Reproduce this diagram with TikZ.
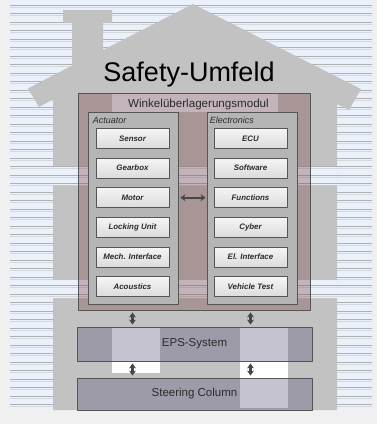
\documentclass[tikz,border=0pt]{standalone}
\usepackage{fontspec}
\setmainfont{Liberation Sans}
\usetikzlibrary{arrows.meta,positioning}
\definecolor{ground}{HTML}{F0F0F0}
\definecolor{siding}{HTML}{EAF1FA}
\definecolor{plank}{HTML}{AEB1B4}
\definecolor{plankhi}{HTML}{D4D8DD}
\definecolor{wall}{HTML}{C2C2C2}
\definecolor{edge}{HTML}{555555}
\definecolor{ink}{HTML}{2B2B2B}
\definecolor{modfill}{HTML}{7A4545}
\definecolor{layerfill}{HTML}{5A5578}
\tikzset{
  every picture/.style={
    line join=round,
    >=Stealth,
  },
  plank/.style={draw=plank, line width=0.6pt},
  plankhi/.style={draw=plankhi, line width=0.45pt},
  modulebox/.style={draw=edge, line width=0.9pt, fill=modfill, fill opacity=0.35,
    minimum width=232pt, minimum height=217pt, inner sep=0pt},
  groupbox/.style={draw=edge, line width=0.9pt, fill=black!29,
    minimum width=90pt, minimum height=192pt, inner sep=0pt},
  grouplabel/.style={font=\fontsize{9}{10}\selectfont\itshape, text=ink, inner sep=0pt},
  partbox/.style={draw=edge, line width=0.8pt, top color=black!4, bottom color=black!14,
    minimum width=73pt, minimum height=20pt, inner sep=0pt,
    font=\fontsize{7.9}{9}\selectfont\bfseries\itshape, text=ink},
  layerbox/.style={draw=edge, line width=0.9pt, fill=layerfill, fill opacity=0.35,
    text opacity=1, minimum width=235pt, inner sep=0pt,
    font=\fontsize{11.5}{13}\selectfont, text=ink},
  linkarrow/.style={<->, draw=black!72, line width=2.1pt,
    >={Stealth[length=5pt,width=7pt]}},
}
% horizontal boards of the wall behind the house
\newcommand\sidinglines{%
  \foreach \y in {5,13.5,...,406}{
    \draw[plank] (10,\y) -- (372,\y);
    \draw[plankhi] (10,\y+1.8) -- (372,\y+1.8);
  }}

\begin{document}
\begin{tikzpicture}[x=1pt,y=-1pt]
\useasboundingbox (0,0) rectangle (377,424);
\fill[ground] (0,0) rectangle (377,424);
\fill[siding] (10,0) rectangle (372,410);
\sidinglines
% house with chimney
\fill[wall] (53,410) -- (53,99.5) -- (39,107) -- (28,88.5) -- (72,65.5) -- (72,23)
  -- (63,23) -- (63,10) -- (112,10) -- (112,23) -- (103,23) -- (103,50)
  -- (193,4) -- (361,89) -- (349,110) -- (337,104) -- (337,410) -- cycle;
% the two open floors
\begin{scope}
  \clip (53,166) rectangle (337,185) (53,280) rectangle (337,298);
  \fill[siding] (53,160) rectangle (337,300);
  \sidinglines
\end{scope}
% windows
\fill[siding] (112,93) rectangle (278,112);
\fill[white] (112,327) rectangle (160,373);
\fill[white] (240,327) rectangle (288,408);

\node[font=\fontsize{27}{30}\selectfont, anchor=base] (title) at (189,81) {Safety-Umfeld};

\node[modulebox] (module) at (194,201.5) {};
\node[font=\fontsize{11.6}{13}\selectfont, text=ink, anchor=base] (modtitle) at (198.5,107) {Winkelüberlagerungsmodul};

\node[groupbox] (actuator) at (133,208) {};
\node[groupbox] (electronics) at (252,208) {};
\node[grouplabel, anchor=base west] (actlabel) at ([shift={(5,11.5)}]actuator.north west) {Actuator};
\node[grouplabel, anchor=base west] (elelabel) at ([shift={(3,11.5)}]electronics.north west) {Electronics};

\foreach \name/\txt [count=\i from 0] in {sensor/Sensor, gearbox/Gearbox, motor/Motor,
    locking/Locking Unit, mechif/Mech. Interface, acoustics/Acoustics}
  \node[partbox] (\name) at (132.5,{138.3+29.7*\i}) {\txt};
\foreach \name/\txt [count=\i from 0] in {ecu/ECU, software/Software, functions/Functions,
    cyber/Cyber, elif/El. Interface, vehicle/Vehicle Test}
  \node[partbox] (\name) at (250.5,{138.3+29.7*\i}) {\txt};

\node[layerbox, minimum height=34pt] (eps) at (194.5,344) {EPS-System};
\node[layerbox, minimum height=32pt] (steering) at (194.5,394) {Steering Column};

\draw[linkarrow, shorten <=2pt, shorten >=1pt] (actuator.east |- motor) -- (electronics.west |- functions);
\foreach \col in {acoustics,vehicle}{
  \draw[linkarrow, shorten <=2pt, shorten >=2pt] (module.south -| \col) -- (eps.north -| \col);
  \draw[linkarrow, shorten <=2pt, shorten >=2pt] (eps.south -| \col) -- (steering.north -| \col);
}
\end{tikzpicture}
\end{document}
